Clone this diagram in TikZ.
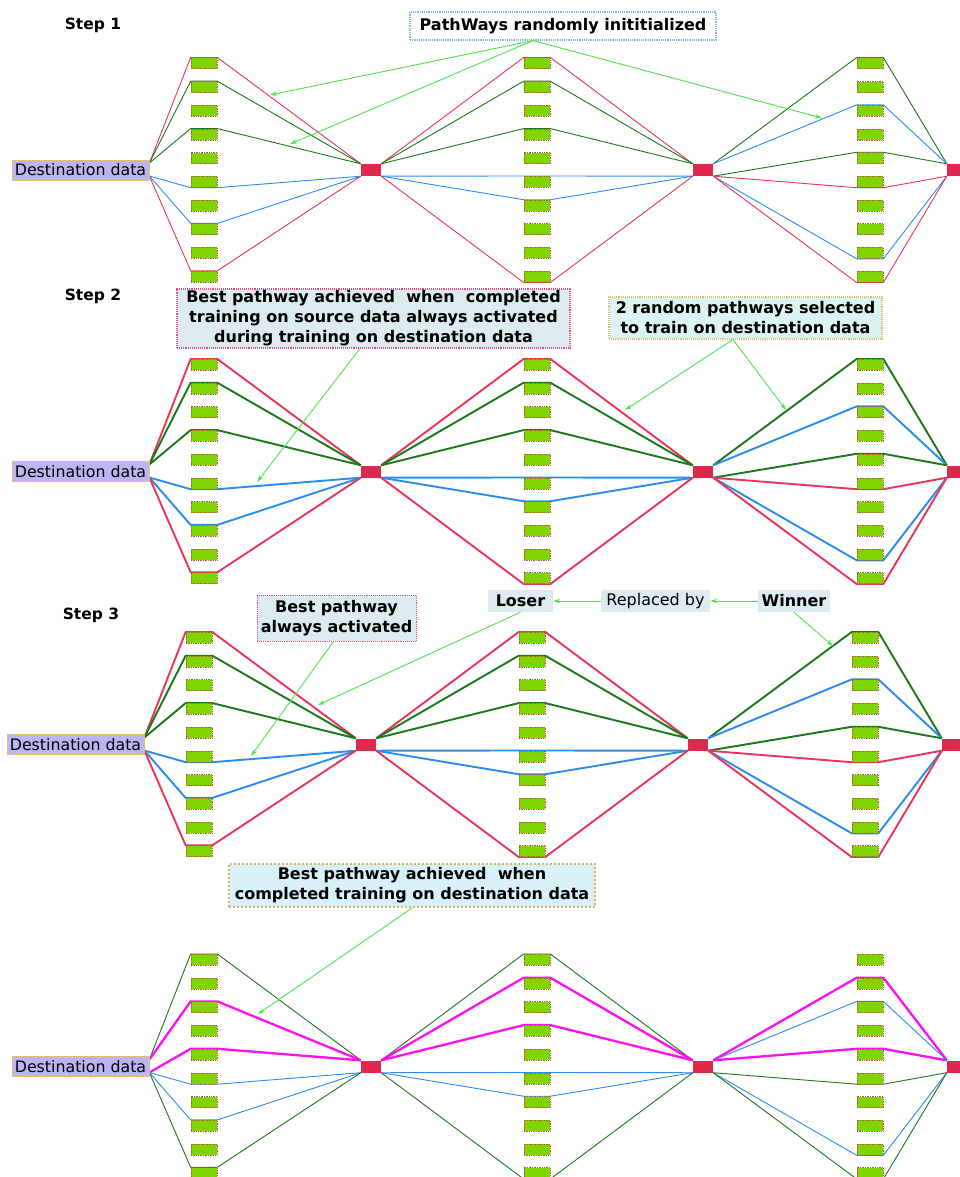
\documentclass[tikz,border=0pt]{standalone}
\usepackage{fontspec}
\setmainfont{DejaVu Sans}
\usetikzlibrary{arrows.meta,backgrounds}
\definecolor{cRed}{HTML}{E8355A}
\definecolor{cGreen}{HTML}{1C781C}
\definecolor{cBlue}{HTML}{2B8CF0}
\definecolor{cMag}{HTML}{FF10F0}
\definecolor{cArrow}{HTML}{4FE34F}
\definecolor{cBox}{HTML}{80D400}
\definecolor{cBoxLine}{HTML}{B05A3C}
\definecolor{cNode}{HTML}{E0284C}
\definecolor{cDest}{HTML}{BAB6F2}
\definecolor{cDestLine}{HTML}{F0B870}
\definecolor{cNoteA}{HTML}{DDEBF0}
\definecolor{cNoteB}{HTML}{DCF3F3}
\definecolor{cNoteC}{HTML}{D8F0F8}
\definecolor{cPink}{HTML}{E05080}
\definecolor{cGold}{HTML}{E0C070}
\definecolor{cTan}{HTML}{E0B060}
\definecolor{cSky}{HTML}{80B8E0}
\tikzset{
  gbox/.style={rectangle, minimum width=26pt, minimum height=11pt, inner sep=0pt,
    fill=cBox, draw=cBoxLine, densely dotted, line width=0.7pt},
  rnode/.style={rectangle, minimum width=20pt, minimum height=12pt, inner sep=0pt, fill=cNode},
  dest/.style={rectangle, minimum width=137pt, minimum height=20pt, inner sep=1pt,
    fill=cDest, draw=cDestLine, line width=0.8pt, font=\fontsize{15.8}{18}\selectfont},
  stepl/.style={font=\fontsize{15.5}{18}\selectfont\bfseries},
  note/.style={rectangle, align=center, inner sep=0pt, font=\fontsize{16}{20}\selectfont\bfseries},
  pRed/.style={draw=cRed},
  pGreen/.style={draw=cGreen},
  pBlue/.style={draw=cBlue},
  pMag/.style={draw=cMag, line width=2.3pt},
  ann/.style={draw=cArrow, line width=0.9pt, -{Stealth[length=7pt,width=4.5pt]}},
}
\newcommand\mkpanel[3]{%
  \node[dest] (d#1) at ({80.5+#2},#3) {Destination data};
  \node[rnode] (n#1a) at ({371+#2},#3) {};
  \node[rnode] (n#1b) at ({703+#2},#3) {};
  \node[rnode] (n#1c) at ({957+#2},#3) {};
  \path (d#1.east) ++(0,-7) coordinate (d#1u);
  \path (d#1.east) ++(0,6) coordinate (d#1l);
  \foreach \k in {1,...,10} {
    \node[gbox] (b#1a\k) at ({204+#2},{#3+(\k-5.5)*23.7}) {};
    \node[gbox] (b#1b\k) at ({537+#2},{#3+(\k-5.5)*23.7}) {};
    \node[gbox] (b#1c\k) at ({870+#2},{#3+(\k-5.5)*23.7}) {};
  }%
}
\newcommand\lk[5]{\draw[#1] (#2) -- (#3.#4 west) -- (#3.#4 east) -- (#5);}
\newcommand\stdlinks[2]{%
  \begin{scope}[line width=#2, line join=round]
  \lk{pRed}{d#1u}{b#1a1}{north}{n#1a.north west}
  \lk{pGreen}{d#1u}{b#1a2}{north}{n#1a.north west}
  \lk{pGreen}{d#1u}{b#1a4}{north}{n#1a.north west}
  \lk{pBlue}{d#1l}{b#1a6}{south}{n#1a.south west}
  \lk{pBlue}{d#1l}{b#1a8}{north}{n#1a.south west}
  \lk{pRed}{d#1l}{b#1a10}{north}{n#1a.south west}
  \lk{pRed}{n#1a.north east}{b#1b1}{north}{n#1b.north west}
  \lk{pGreen}{n#1a.north east}{b#1b2}{north}{n#1b.north west}
  \lk{pGreen}{n#1a.north east}{b#1b4}{north}{n#1b.north west}
  \lk{pBlue}{n#1a.south east}{b#1b6}{north}{n#1b.south west}
  \lk{pBlue}{n#1a.south east}{b#1b7}{north}{n#1b.south west}
  \lk{pRed}{n#1a.south east}{b#1b10}{south}{n#1b.south west}
  \lk{pGreen}{n#1b.north east}{b#1c1}{north}{n#1c.north west}
  \lk{pBlue}{n#1b.north east}{b#1c3}{north}{n#1c.north west}
  \lk{pGreen}{n#1b.south east}{b#1c5}{north}{n#1c.north west}
  \lk{pRed}{n#1b.south east}{b#1c6}{south}{n#1c.south west}
  \lk{pBlue}{n#1b.south east}{b#1c9}{south}{n#1c.south west}
  \lk{pRed}{n#1b.south east}{b#1c10}{south}{n#1c.south west}
  \end{scope}}
\begin{document}
\begin{tikzpicture}[x=1pt,y=-1pt]
\useasboundingbox (0,0) rectangle (960,1177);

% panels
\mkpanel{1}{0}{170}
\mkpanel{2}{0}{471.5}
\mkpanel{3}{-5}{744.5}
\mkpanel{4}{0}{1066.5}

\begin{scope}[on background layer]
\fill[white] (0,0) rectangle (960,1177);
\stdlinks{1}{0.9pt}
\stdlinks{2}{1.9pt}
\stdlinks{3}{1.9pt}
\begin{scope}[line width=0.9pt, line join=round]
  \lk{pGreen}{d4u}{b4a1}{north}{n4a.north west}
  \lk{pMag}{d4u}{b4a3}{north}{n4a.north west}
  \lk{pMag}{d4l}{b4a5}{north}{n4a.north west}
  \lk{pBlue}{d4l}{b4a6}{south}{n4a.south west}
  \lk{pBlue}{d4l}{b4a8}{north}{n4a.south west}
  \lk{pGreen}{d4l}{b4a10}{north}{n4a.south west}
  \lk{pGreen}{n4a.north east}{b4b1}{north}{n4b.north west}
  \lk{pMag}{n4a.north east}{b4b2}{north}{n4b.north west}
  \lk{pMag}{n4a.north east}{b4b4}{north}{n4b.north west}
  \lk{pBlue}{n4a.south east}{b4b6}{north}{n4b.south west}
  \lk{pBlue}{n4a.south east}{b4b7}{north}{n4b.south west}
  \lk{pGreen}{n4a.south east}{b4b10}{south}{n4b.south west}
  \lk{pMag}{n4b.north east}{b4c2}{north}{n4c.north west}
  \lk{pBlue}{n4b.north east}{b4c3}{north}{n4c.north west}
  \lk{pMag}{n4b.north east}{b4c5}{north}{n4c.north west}
  \lk{pGreen}{n4b.south east}{b4c6}{south}{n4c.south west}
  \lk{pBlue}{n4b.south east}{b4c9}{south}{n4c.south west}
  \lk{pGreen}{n4b.south east}{b4c10}{south}{n4c.south west}
\end{scope}
\end{scope}

% labels
\node[stepl] (s1) at (93,25) {Step 1};
\node[stepl] (s2) at (93,296) {Step 2};
\node[stepl] (s3) at (91,615) {Step 3};

\node[note, minimum width=306pt, minimum height=28pt, fill=white, draw=cSky,
  densely dotted, line width=1.2pt] (pw) at (563,26) {PathWays randomly inititialized};
\node[note, minimum width=393pt, minimum height=59pt, fill=cNoteA, draw=cPink,
  densely dotted, line width=1.1pt] (a2) at (373.5,318.5)
  {Best pathway achieved\ \ when\ \ completed\\training on source data always activated\\during training on destination data};
\node[note, minimum width=273pt, minimum height=42pt, fill=cNoteB, draw=cGold,
  densely dotted, line width=1.1pt] (b2) at (745.5,318)
  {2 random pathways selected\\to train on destination data};
\node[note, minimum width=159pt, minimum height=46pt, fill=cNoteA, draw=cPink,
  densely dotted, line width=0.9pt] (a3) at (336.5,618)
  {Best pathway\\always activated};
\node[note, minimum width=65pt, minimum height=22pt, fill=cNoteA] (los) at (520.5,601) {Loser};
\node[note, minimum width=109pt, minimum height=22pt, fill=cNoteA,
  font=\fontsize{16}{20}\selectfont] (rep) at (655.5,601) {Replaced by};
\node[note, minimum width=72pt, minimum height=22pt, fill=cNoteA] (win) at (794,601) {Winner};
\node[note, minimum width=366pt, minimum height=43pt, fill=cNoteC, draw=cTan,
  dotted, line width=2pt] (a4) at (412,885.5)
  {Best pathway achieved\ \ when\\completed training on destination data};

% arrow targets
\coordinate (t1) at (270,95);
\coordinate (t2) at (290,144);
\coordinate (t3) at (822,118);
\coordinate (t4) at (257,482);
\coordinate (t5) at (625,410);
\coordinate (t6) at (786,410);
\coordinate (t7) at (251,756);
\coordinate (t8) at (318,705);
\coordinate (t9) at (833,646);
\coordinate (t10) at (258,1014);

\draw[ann] ([xshift=-30pt]pw.south) -- (t1);
\draw[ann] ([xshift=-30pt]pw.south) -- (t2);
\draw[ann] ([xshift=-30pt]pw.south) -- (t3);
\draw[ann] ([xshift=-13.5pt]a2.south) -- (t4);
\draw[ann] ([xshift=-12.5pt]b2.south) -- (t5);
\draw[ann] ([xshift=-12.5pt]b2.south) -- (t6);
\draw[ann] ([xshift=-3pt]a3.south) -- (t7);
\draw[ann] (los.south) -- (t8);
\draw[ann] (rep.west) -- (los.east);
\draw[ann] (win.west) -- (rep.east);
\draw[ann] (win.south) -- (t9);
\draw[ann] (a4.south) -- (t10);
\end{tikzpicture}
\end{document}
